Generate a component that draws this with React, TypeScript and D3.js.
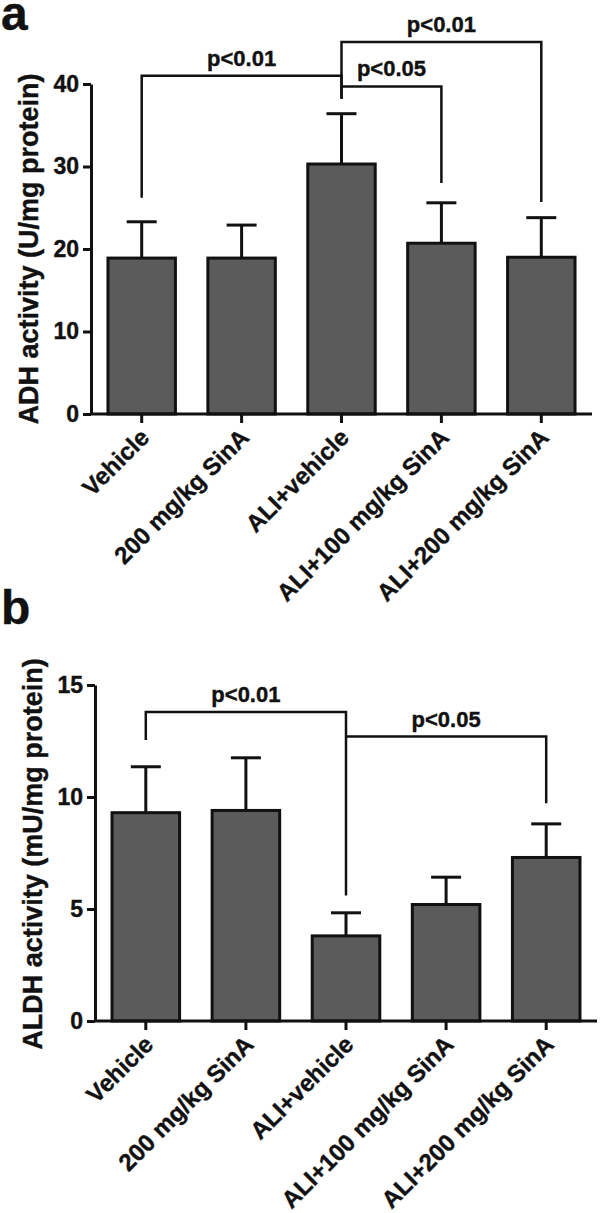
import React, { useEffect, useRef } from 'react';
import * as d3 from 'd3';

// groups on the x axis (same for both panels)
const groups = ['Vehicle', '200 mg/kg SinA', 'ALI+vehicle', 'ALI+100 mg/kg SinA', 'ALI+200 mg/kg SinA'];

// panel a: ADH activity (U/mg protein), mean and SEM
const adhMean = [18.9, 18.9, 30.3, 20.7, 19.0];
const adhSem = [4.4, 4.0, 6.1, 4.9, 4.8];
const adhTicks = [0, 10, 20, 30, 40];

// panel b: ALDH activity (mU/mg protein)
const aldhMean = [9.3, 9.4, 3.8, 5.2, 7.3];
const aldhSem = [2.05, 2.35, 1.03, 1.22, 1.5];
const aldhTicks = [0, 5, 10, 15];

// significance brackets: group indexes, bar level and where each leg stops (data units)
const adhBrackets = [
  { from: 0, to: 2, level: 41.0, fromEnd: 26.2, toEnd: 38.2, label: 'p<0.01' },
  { from: 2, to: 3, level: 39.7, fromEnd: 39.7, toEnd: 28.0, label: 'p<0.05' },
  { from: 2, to: 4, level: 45.1, fromEnd: 38.2, toEnd: 25.7, label: 'p<0.01' },
];
const aldhBrackets = [
  { from: 0, to: 2, level: 13.8, fromEnd: 12.55, toEnd: 5.6, label: 'p<0.01' },
  { from: 2, to: 4, level: 12.7, fromEnd: 12.7, toEnd: 9.72, label: 'p<0.05' },
];

const FONT = '"Liberation Sans", Arial, Helvetica, sans-serif';
const INK = '#111';

const boldText = (sel, size) =>
  sel
    .attr('fill', INK)
    .attr('stroke', INK)
    .attr('stroke-width', 0.4)
    .style('font-family', FONT)
    .style('font-weight', 'bold')
    .style('font-size', `${size}px`);

const drawPanel = (svg, opt) => {
  const g = svg.append('g');

  const x = d3.scaleBand()
    .domain(groups)
    .range([opt.left, opt.right])
    .paddingInner(0.325)
    .paddingOuter(0.17);
  const y = d3.scaleLinear().domain([0, opt.max]).range([opt.bottom, opt.top]);
  const cx = (i) => x(groups[i]) + x.bandwidth() / 2;

  // error bars (upper half only)
  const err = g.append('g').attr('stroke', INK).attr('stroke-width', 3);
  opt.means.forEach((m, i) => {
    const top = y(m + opt.sems[i]);
    err.append('line').attr('x1', cx(i)).attr('x2', cx(i)).attr('y1', y(m)).attr('y2', top);
    err.append('line').attr('x1', cx(i) - 15).attr('x2', cx(i) + 15).attr('y1', top).attr('y2', top);
  });

  // bars
  g.append('g')
    .selectAll('rect')
    .data(opt.means)
    .join('rect')
    .attr('x', (d, i) => x(groups[i]))
    .attr('y', (d) => y(d))
    .attr('width', x.bandwidth())
    .attr('height', (d) => y(0) - y(d))
    .attr('fill', '#5b5b5b')
    .attr('stroke', INK)
    .attr('stroke-width', 3);

  // y axis
  const yAxis = d3.axisLeft(y).tickValues(opt.ticks).tickSize(8).tickSizeOuter(0).tickPadding(4);
  const ya = g.append('g').attr('transform', `translate(${opt.left},0)`).call(yAxis);
  ya.select('.domain').attr('stroke', INK).attr('stroke-width', 3);
  ya.selectAll('.tick line').attr('stroke', INK).attr('stroke-width', 3);
  boldText(ya.selectAll('.tick text'), 23);

  // x axis line and ticks
  g.append('line')
    .attr('x1', opt.left).attr('x2', opt.right)
    .attr('y1', y(0)).attr('y2', y(0))
    .attr('stroke', INK).attr('stroke-width', 3);
  groups.forEach((name, i) => {
    g.append('line')
      .attr('x1', cx(i)).attr('x2', cx(i))
      .attr('y1', y(0)).attr('y2', y(0) + 9)
      .attr('stroke', INK).attr('stroke-width', 3);
    boldText(g.append('text'), 24)
      .attr('transform', `translate(${cx(i) + 9},${y(0) + 25}) rotate(-45)`)
      .attr('text-anchor', 'end')
      .text(name);
  });

  // y title
  boldText(g.append('text'), 27)
    .attr('transform', `translate(${opt.titleX},${opt.titleY}) rotate(-90)`)
    .attr('text-anchor', 'middle')
    .text(opt.title);

  // brackets
  const br = g.append('g');
  opt.brackets.forEach((b) => {
    const x1 = cx(b.from), x2 = cx(b.to), yl = y(b.level);
    br.append('path')
      .attr('d', `M${x1},${y(b.fromEnd)}V${yl}H${x2}V${y(b.toEnd)}`)
      .attr('fill', 'none')
      .attr('stroke', INK)
      .attr('stroke-width', 2.5);
    boldText(br.append('text'), 22)
      .attr('x', (x1 + x2) / 2)
      .attr('y', yl - 10)
      .attr('text-anchor', 'middle')
      .text(b.label);
  });

  // panel letter
  boldText(g.append('text'), 48)
    .attr('x', 1)
    .attr('y', opt.letterY)
    .text(opt.letter);
};

export default function App() {
  const ref = useRef(null);

  useEffect(() => {
    const svg = d3.select(ref.current);
    svg.selectAll('*').remove();

    drawPanel(svg, {
      letter: 'a', letterY: 30,
      title: 'ADH activity (U/mg protein)', titleX: 38, titleY: 249,
      means: adhMean, sems: adhSem, ticks: adhTicks, brackets: adhBrackets,
      max: 40, left: 91, right: 592, top: 84, bottom: 414,
    });
    drawPanel(svg, {
      letter: 'b', letterY: 624,
      title: 'ALDH activity (mU/mg protein)', titleX: 42, titleY: 854,
      means: aldhMean, sems: aldhSem, ticks: aldhTicks, brackets: aldhBrackets,
      max: 15, left: 95, right: 597, top: 685, bottom: 1021,
    });
  }, []);

  return (
    <div style={{ position: 'absolute', left: 0, top: 0 }}>
      <svg ref={ref} width={600} height={1213} style={{ display: 'block', background: '#fff' }} />
    </div>
  );
}
